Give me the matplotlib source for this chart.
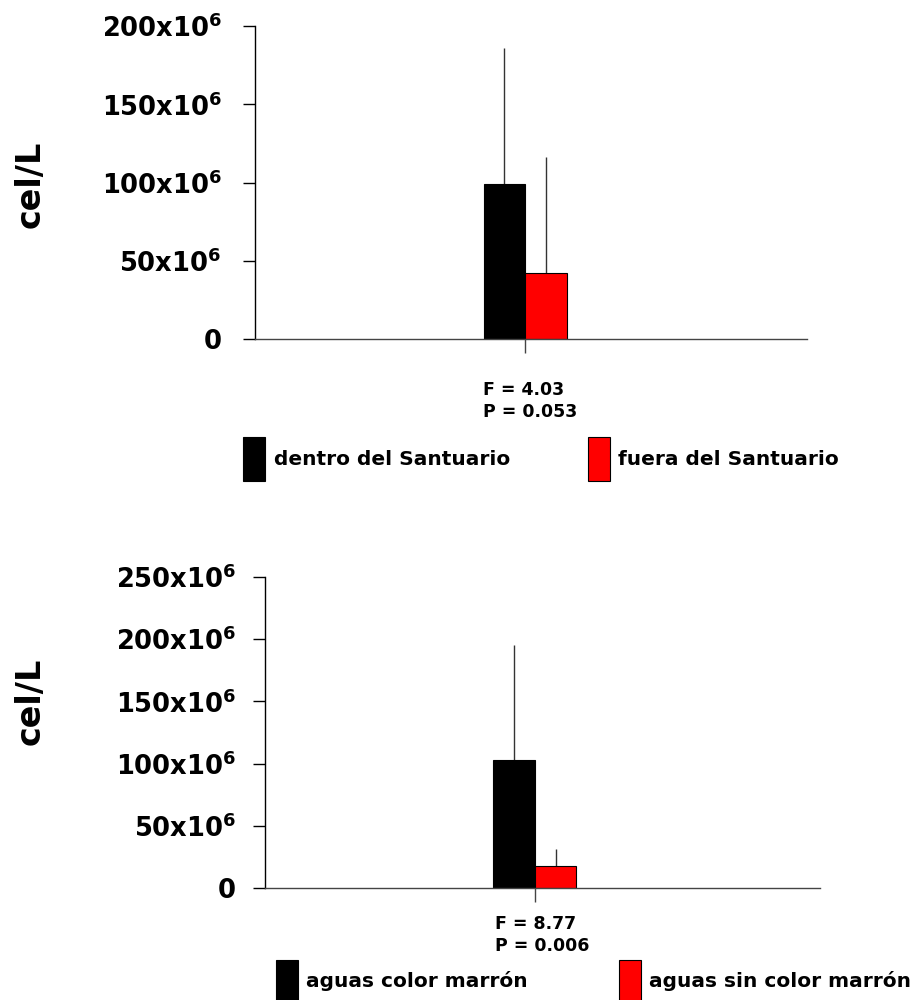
import numpy as np
import matplotlib
matplotlib.use("Agg")
import matplotlib.pyplot as plt
from matplotlib.patches import Rectangle

# --- data (cel/L) ---
top_groups = ["dentro del Santuario", "fuera del Santuario"]
top_means = [99e6, 42e6]
top_err = [87e6, 74e6]
top_stats = ["F = 4.03", "P = 0.053"]
top_ticks = [0, 50e6, 100e6, 150e6, 200e6]
top_ticklabels = ["0", "50x10$^6$", "100x10$^6$", "150x10$^6$", "200x10$^6$"]

bot_groups = ["aguas color marrón", "aguas sin color marrón"]
bot_means = [103e6, 18e6]
bot_err = [92e6, 13e6]
bot_stats = ["F = 8.77", "P = 0.006"]
bot_ticks = [0, 50e6, 100e6, 150e6, 200e6, 250e6]
bot_ticklabels = ["0", "50x10$^6$", "100x10$^6$", "150x10$^6$", "200x10$^6$", "250x10$^6$"]

COLORS = ["black", "#FF0000"]

plt.rcParams.update({
    "font.family": "DejaVu Sans", "font.weight": "bold",
    "mathtext.default": "bf",
})

W, H = 919, 1000
fig = plt.figure(figsize=(W / 100, H / 100), dpi=100)


def px_axes(l, r, t, b):
    return fig.add_axes([l / W, 1 - b / H, (r - l) / W, (b - t) / H])


def panel(ax, means, err, ticks, ticklabels, ymax, xlim, pad):
    x = np.arange(len(means))
    ax.bar(x, means, width=1.0, color=COLORS, edgecolor="black", linewidth=0.8,
           zorder=2)
    ax.errorbar(x, means, yerr=[np.zeros(len(err)), err], fmt="none",
                ecolor="#333333", elinewidth=1.0, capsize=0, zorder=1)
    ax.set_ylim(0, ymax)
    ax.set_xlim(*xlim)
    ax.set_yticks(ticks)
    ax.set_yticklabels(ticklabels, fontsize=18.5, fontweight="bold")
    ax.set_xticks([0.5])
    ax.set_xticklabels([""])
    ax.tick_params(axis="y", direction="out", length=8.6, width=1, pad=pad)
    ax.tick_params(axis="x", direction="out", length=10, width=1,
                   color="#444444")
    for s in ["top", "right"]:
        ax.spines[s].set_visible(False)
    for s in ["left", "bottom"]:
        ax.spines[s].set_linewidth(1.0)
    ax.spines["bottom"].set_color("#444444")
    ax.patch.set_alpha(0)


ax1 = px_axes(255, 807, 26, 339)
panel(ax1, top_means, top_err, top_ticks, top_ticklabels, 200e6,
      (-5.97, 7.24), 15.5)
ax2 = px_axes(265, 820, 577, 888)
panel(ax2, bot_means, bot_err, bot_ticks, bot_ticklabels, 250e6,
      (-6.0, 7.37), 12.5)

# y labels
fig.text(30 / W, 1 - 184 / H, "cel/L", rotation=90, fontsize=24,
         fontweight="bold", ha="center", va="center")
fig.text(30 / W, 1 - 701 / H, "cel/L", rotation=90, fontsize=24,
         fontweight="bold", ha="center", va="center")

# statistics
for (x0, y0), stats in [((483, 390), top_stats), ((495, 924), bot_stats)]:
    for i, s in enumerate(stats):
        fig.text(x0 / W, 1 - (y0 + 22 * i) / H, s, fontsize=12.5,
                 fontweight="bold", ha="left", va="center")

# legends (patch left, text left) in pixels
legend_rows = [
    (top_groups, [(243, 274), (588, 618)], 437, 44),
    (bot_groups, [(276, 306), (619, 649)], 960, 42),
]
for groups, cols, ytop, ph in legend_rows:
    for (px, tx), lab, c in zip(cols, groups, COLORS):
        fig.add_artist(Rectangle((px / W, 1 - (ytop + ph) / H), 22 / W, ph / H,
                                 transform=fig.transFigure, facecolor=c,
                                 edgecolor="black", linewidth=0.8))
        fig.text(tx / W, 1 - (ytop + ph / 2) / H, lab, fontsize=14.5,
                 fontweight="bold", ha="left", va="center")

fig.savefig("out.png", dpi=100)
